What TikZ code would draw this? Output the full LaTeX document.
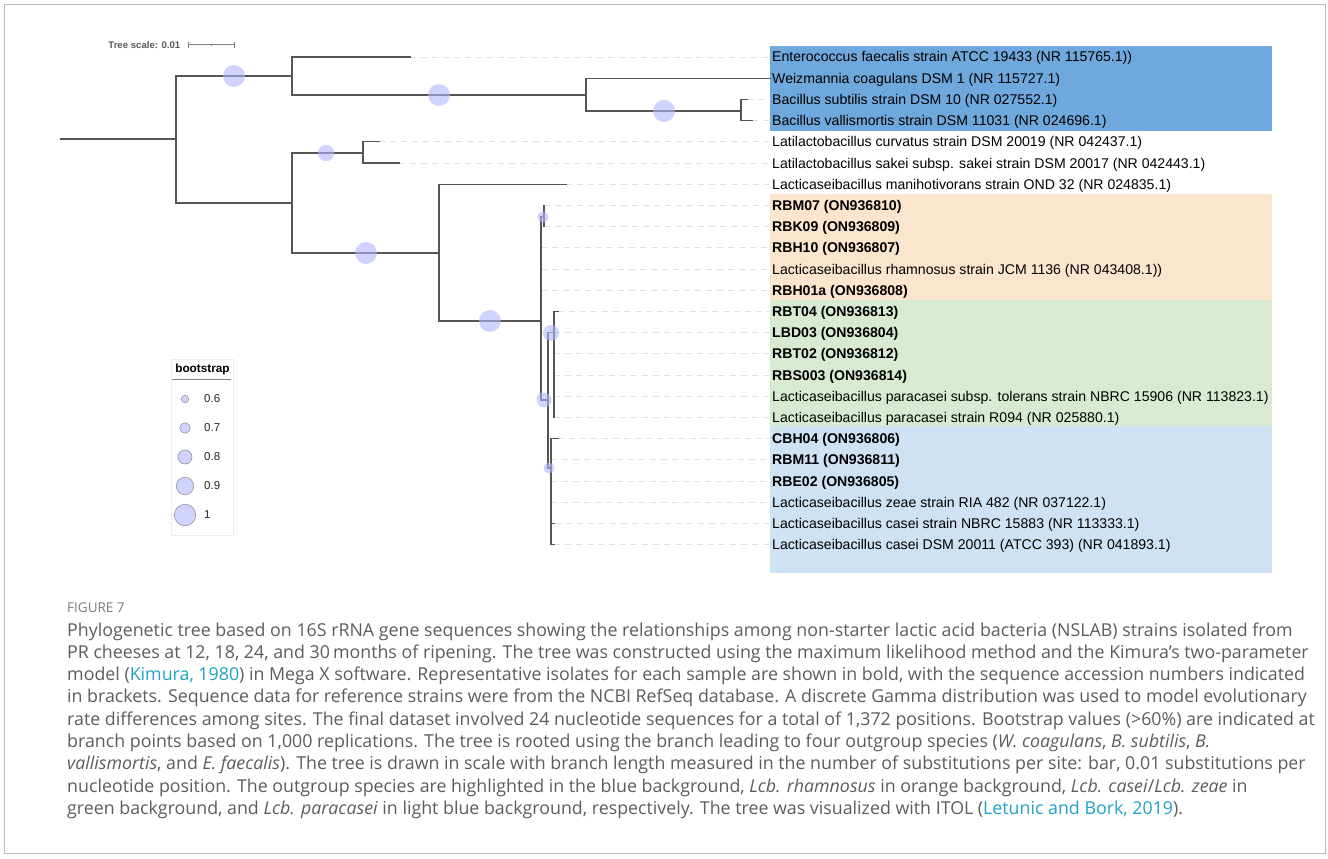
\documentclass[tikz,border=0pt]{standalone}
\usepackage{fontspec}
\setmainfont{Liberation Sans}
\newfontfamily\capfont{Open Sans}
\definecolor{outblue}{HTML}{6FA8DC}
\definecolor{orangebg}{HTML}{FCE5CD}
\definecolor{greenbg}{HTML}{D9EAD3}
\definecolor{lblue}{HTML}{CFE2F3}
\definecolor{branch}{HTML}{555555}
\definecolor{leadgray}{HTML}{E2E2E2}
\definecolor{bubble}{RGB}{180,180,255}
\definecolor{capgray}{HTML}{5C5C5C}
\definecolor{figgray}{HTML}{7A7A7A}
\definecolor{citecol}{HTML}{1FA2C6}
\definecolor{framegray}{HTML}{BBBBBB}
\begin{document}
\begin{tikzpicture}[x=1pt,y=-1pt,
  br/.style={draw=branch, line width=1.2pt, line cap=rect},
  lead/.style={draw=leadgray, line width=0.9pt, dash pattern=on 6pt off 5pt},
  lbl/.style={anchor=base west, inner sep=0pt, font=\fontsize{14.1}{16}\selectfont, text=black},
  blbl/.style={lbl, font=\fontsize{14.1}{16}\selectfont\bfseries},
  boot/.style={circle, fill=bubble, fill opacity=0.6, draw=none, inner sep=0pt, minimum size=#1},
  legc/.style={circle, fill=bubble, fill opacity=0.6, draw=gray, draw opacity=0.8, line width=0.6pt, inner sep=0pt, minimum size=#1},
  legt/.style={anchor=west, inner sep=0pt, font=\fontsize{11.5}{13}\selectfont, text=black!85},
  capline/.style={anchor=base west, inner sep=0pt, font=\capfont\fontsize{17.8}{20}\selectfont, text=capgray}
]
\useasboundingbox (0,0) rectangle (1328,859);
\draw[framegray, line width=1pt] (4,5) rectangle (1325,853);

% backgrounds
\fill[outblue] (770,46) rectangle (1272,131);
\fill[orangebg] (770,194) rectangle (1272,300);
\fill[greenbg] (770,300) rectangle (1272,426);
\fill[lblue] (770,426) rectangle (1272,573);

% labels
\node[lbl] (L1) at (772,62.0) {Enterococcus faecalis strain ATCC 19433 (NR 115765.1))};
\node[lbl] (L2) at (772,83.2) {Weizmannia coagulans DSM 1 (NR 115727.1)};
\node[lbl] (L3) at (772,104.4) {Bacillus subtilis strain DSM 10 (NR 027552.1)};
\node[lbl] (L4) at (772,125.6) {Bacillus vallismortis strain DSM 11031 (NR 024696.1)};
\node[lbl] (L5) at (772,146.8) {Latilactobacillus curvatus strain DSM 20019 (NR 042437.1)};
\node[lbl] (L6) at (772,168.0) {Latilactobacillus sakei subsp. sakei strain DSM 20017 (NR 042443.1)};
\node[lbl] (L7) at (772,189.2) {Lacticaseibacillus manihotivorans strain OND 32 (NR 024835.1)};
\node[blbl] (L8) at (772,210.4) {RBM07 (ON936810)};
\node[blbl] (L9) at (772,231.6) {RBK09 (ON936809)};
\node[blbl] (L10) at (772,252.8) {RBH10 (ON936807)};
\node[lbl] (L11) at (772,274.0) {Lacticaseibacillus rhamnosus strain JCM 1136 (NR 043408.1))};
\node[blbl] (L12) at (772,295.2) {RBH01a (ON936808)};
\node[blbl] (L13) at (772,316.4) {RBT04 (ON936813)};
\node[blbl] (L14) at (772,337.6) {LBD03 (ON936804)};
\node[blbl] (L15) at (772,358.8) {RBT02 (ON936812)};
\node[blbl] (L16) at (772,380.0) {RBS003 (ON936814)};
\node[lbl] (L17) at (772,401.2) {Lacticaseibacillus paracasei subsp. tolerans strain NBRC 15906 (NR 113823.1)};
\node[lbl] (L18) at (772,422.4) {Lacticaseibacillus paracasei strain R094 (NR 025880.1)};
\node[blbl] (L19) at (772,443.6) {CBH04 (ON936806)};
\node[blbl] (L20) at (772,464.8) {RBM11 (ON936811)};
\node[blbl] (L21) at (772,486.0) {RBE02 (ON936805)};
\node[lbl] (L22) at (772,507.2) {Lacticaseibacillus zeae strain RIA 482 (NR 037122.1)};
\node[lbl] (L23) at (772,528.4) {Lacticaseibacillus casei strain NBRC 15883 (NR 113333.1)};
\node[lbl] (L24) at (772,549.6) {Lacticaseibacillus casei DSM 20011 (ATCC 393) (NR 041893.1)};

% internal nodes
\coordinate (R0) at (61,139);
\coordinate (R) at (176,139);
\coordinate (A) at (292,76);
\coordinate (D) at (292,203);
\coordinate (B) at (586,95);
\coordinate (C) at (741,111);
\coordinate (E) at (363,153);
\coordinate (F) at (439,253);
\coordinate (G) at (541,321);
\coordinate (H) at (544,216.5);
\coordinate (I) at (548,400);
\coordinate (J) at (554,332.6);
\coordinate (K) at (551,468);

% tips
\coordinate (T1) at (410,57);
\coordinate (T2) at (770,78.2);
\coordinate (T3) at (747,99.4);
\coordinate (T4) at (752,120.6);
\coordinate (T5) at (379,141.8);
\coordinate (T6) at (399,163);
\coordinate (T7) at (566,184.2);
\coordinate (T8) at (544,205.4);
\coordinate (T9) at (544,226.6);
\coordinate (T10) at (541,247.8);
\coordinate (T11) at (541,269);
\coordinate (T12) at (541,290.2);
\coordinate (T13) at (558,311.4);
\coordinate (T14) at (554,332.6);
\coordinate (T15) at (554,353.8);
\coordinate (T16) at (554,375);
\coordinate (T17) at (554,396.2);
\coordinate (T18) at (554,417.4);
\coordinate (T19) at (558,438.6);
\coordinate (T20) at (551,459.8);
\coordinate (T21) at (551,481);
\coordinate (T22) at (551,502.2);
\coordinate (T23) at (555,523.4);
\coordinate (T24) at (554,544.6);

% leader lines
\foreach \i in {1,3,4,5,6,7,8,9,10,11,12,13,14,15,16,17,18,19,20,21,22,23,24}{
  \draw[lead] (T\i) -- ([xshift=-3pt]T\i -| L\i.west);
}

% branches
\draw[br] (R0) -- (R);
\draw[br] (R) |- (A);
\draw[br] (R) |- (D);
\draw[br] (A) |- (T1);
\draw[br] (A) |- (B);
\draw[br] (B) |- (T2);
\draw[br] (B) |- (C);
\draw[br] (C) |- (T3);
\draw[br] (C) |- (T4);
\draw[br] (D) |- (E);
\draw[br] (D) |- (F);
\draw[br] (E) |- (T5);
\draw[br] (E) |- (T6);
\draw[br] (F) |- (T7);
\draw[br] (F) |- (G);
\draw[br] (G) |- (H);
\draw[br] (G) |- (I);
\draw[br] (H) |- (T8);
\draw[br] (H) |- (T9);
\draw[br] (I) |- (J);
\draw[br] (I) |- (K);
\draw[br] (J) |- (T13);
\draw[br] (J) |- (T18);
\draw[br] (K) |- (T19);
\draw[br] (K) |- (T24);
\draw[br, line width=0.6pt] ([xshift=1pt]K |- T23) -- (T23);

% bootstrap bubbles
\node[boot=22pt] (b1) at (234,76) {};
\node[boot=22pt] (b2) at (439,95) {};
\node[boot=22pt] (b3) at (664,111) {};
\node[boot=16.5pt] (b4) at (326,153) {};
\node[boot=22pt] (b5) at (366,253) {};
\node[boot=22pt] (b6) at (490,321) {};
\node[boot=11pt] (b7) at (543,217) {};
\node[boot=16pt] (b8) at (551,333) {};
\node[boot=15pt] (b9) at (544,400) {};
\node[boot=11pt] (b10) at (549,468) {};

% tree scale
\node[anchor=east, inner sep=0pt, font=\fontsize{9.6}{11}\selectfont\bfseries, text=black!65] (tscale) at (180.5,45.5) {Tree scale: 0.01};
\coordinate (S1) at (188,45);
\coordinate (S2) at (234,45);
\coordinate (S3) at (211,45);
\draw[gray, line width=1pt] (S1) -- (S2);
\draw[gray, line width=1pt] ([yshift=-3pt]S1) -- ([yshift=3pt]S1);
\draw[gray, line width=1pt] ([yshift=-3pt]S2) -- ([yshift=3pt]S2);
\draw[gray, line width=0.8pt] ([yshift=-1pt]S3) -- ([yshift=1pt]S3);

% legend
\draw[black!7, line width=0.8pt] (171,359) rectangle (233,535);
\node[inner sep=0pt, font=\fontsize{11.8}{13}\selectfont\bfseries] (legtitle) at (202.5,369) {bootstrap};
\draw[gray, line width=1pt] (172,379) -- (231,379);
\node[legc=7.5pt] (c06) at (185,399) {};
\node[legc=10.5pt] (c07) at (185,428) {};
\node[legc=14pt] (c08) at (185,457) {};
\node[legc=17.5pt] (c09) at (185,486) {};
\node[legc=21.5pt] (c10) at (185,515) {};
\node[legt] (t06) at (204,399) {0.6};
\node[legt] (t07) at (204,428) {0.7};
\node[legt] (t08) at (204,457) {0.8};
\node[legt] (t09) at (204,486) {0.9};
\node[legt] (t10) at (204,515) {1};

% caption
\node[anchor=base west, inner sep=0pt, font=\capfont\fontsize{13.5}{15}\selectfont, text=figgray] (fig) at (67,612.5) {FIGURE 7};
\node[capline] (c1) at (67,636) {Phylogenetic tree based on 16S rRNA gene sequences showing the relationships among non-starter lactic acid bacteria (NSLAB) strains isolated from};
\node[capline] (c2) at (67,658.3) {PR cheeses at 12, 18, 24, and 30\,months of ripening. The tree was constructed using the maximum likelihood method and the Kimura’s two-parameter};
\node[capline] (c3) at (67,680.6) {model (\textcolor{citecol}{Kimura, 1980}) in Mega X software. Representative isolates for each sample are shown in bold, with the sequence accession numbers indicated};
\node[capline] (c4) at (67,702.9) {in brackets. Sequence data for reference strains were from the NCBI RefSeq database. A discrete Gamma distribution was used to model evolutionary};
\node[capline] (c5) at (67,725.2) {rate differences among sites. The final dataset involved 24 nucleotide sequences for a total of 1,372 positions. Bootstrap values (>60\%) are indicated at};
\node[capline] (c6) at (67,747.5) {branch points based on 1,000 replications. The tree is rooted using the branch leading to four outgroup species (\textit{W. coagulans}, \textit{B. subtilis}, \textit{B.}};
\node[capline] (c7) at (67,769.8) {\textit{vallismortis}, and \textit{E. faecalis}). The tree is drawn in scale with branch length measured in the number of substitutions per site: bar, 0.01 substitutions per};
\node[capline] (c8) at (67,792.1) {nucleotide position. The outgroup species are highlighted in the blue background, \textit{Lcb. rhamnosus} in orange background, \textit{Lcb. casei}/\textit{Lcb. zeae} in};
\node[capline] (c9) at (67,814.4) {green background, and \textit{Lcb. paracasei} in light blue background, respectively. The tree was visualized with ITOL (\textcolor{citecol}{Letunic and Bork, 2019}).};
\end{tikzpicture}
\end{document}
